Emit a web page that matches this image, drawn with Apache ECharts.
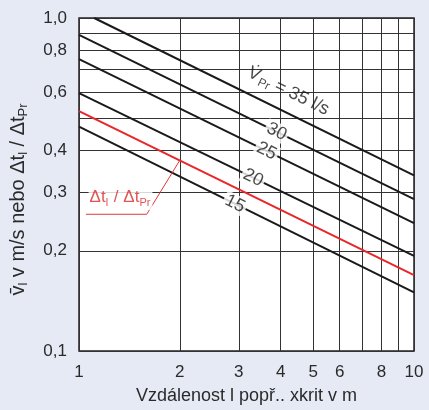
<!DOCTYPE html>
<html>
<head>
<meta charset="utf-8">
<script src="https://cdn.jsdelivr.net/npm/echarts@6/dist/echarts.min.js"></script>
<style>
html,body{margin:0;padding:0;background:#e6eaf4;}
#chart{width:429px;height:410px;}
</style>
</head>
<body>
<div id="chart"></div>
<script>
// ---- data ----
const flowNames = ['35', '30', '25', '20', '15'];
const line35 = [[1.11, 1.0], [10, 0.337]];
const line30 = [[1, 0.89], [10, 0.286]];
const line25 = [[1, 0.753], [10, 0.242]];
const line20 = [[1, 0.595], [10, 0.193]];
const line15 = [[1, 0.472], [10, 0.150]];
const ratioLine = [[1, 0.525], [10, 0.169]];
const flowLabelX = [3.97, 3.89, 3.63, 3.31, 2.92];
const ratioLeader = [[1.049, 0.2574], [1.593, 0.2574], [2, 0.374]];
const ratioLabelPos = [1.33, 0.289];
const xGridValues = [1, 2, 3, 4, 5, 6, 7, 8, 9, 10];
const xTickLabels = [1, 2, 3, 4, 5, 6, 8, 10];
const yGridValues = [0.1, 0.2, 0.3, 0.4, 0.5, 0.6, 0.7, 0.8, 0.9, 1.0];
const yTickLabels = [0.1, 0.2, 0.3, 0.4, 0.6, 0.8, 1.0];

const flowLines = [line35, line30, line25, line20, line15];

function yOn(line, x) {
  const [x0, y0] = line[0], [x1, y1] = line[1];
  const t = (Math.log10(x) - Math.log10(x0)) / (Math.log10(x1) - Math.log10(x0));
  return Math.pow(10, Math.log10(y0) + t * (Math.log10(y1) - Math.log10(y0)));
}

const FONT = 'Liberation Sans, Arial, sans-serif';
const ROT = -26.3;
const INK = '#1a1a1a';

const series = [];
flowLines.forEach((ln) => {
  series.push({
    type: 'line', data: ln, symbol: 'none', z: 3,
    lineStyle: { color: INK, width: 2 }, silent: true
  });
});
series.push({
  type: 'line', data: ratioLine, symbol: 'none', z: 3,
  lineStyle: { color: '#e8262b', width: 2 }, silent: true
});
series.push({
  type: 'line', data: ratioLeader, symbol: 'none', z: 3,
  lineStyle: { color: '#e0393a', width: 1 }, silent: true
});

const labelData = flowNames.map((name, i) => {
  const x = flowLabelX[i];
  const y = yOn(flowLines[i], x);
  if (i === 0) {
    return {
      value: [x, y],
      label: {
        formatter: '{v|V\u0307}{s|Pr}{t| = 35 l/s}',
        offset: [0, -20],
        rich: {
          v: { fontSize: 18, fontFamily: FONT, color: INK, lineHeight: 22 },
          s: { fontSize: 12, fontFamily: FONT, color: INK, verticalAlign: 'bottom', lineHeight: 22, padding: [7, 0, 0, 1] },
          t: { fontSize: 18, fontFamily: FONT, color: INK, lineHeight: 22 }
        }
      }
    };
  }
  return {
    value: [x, y],
    label: {
      formatter: name,
      backgroundColor: '#ffffff',
      padding: [0, 2]
    }
  };
});

series.push({
  type: 'scatter', data: labelData, symbolSize: 0, z: 6, silent: true,
  label: {
    show: true, position: 'inside', rotate: ROT,
    fontSize: 18, fontFamily: FONT, color: INK
  }
});

series.push({
  type: 'scatter', data: [{ value: ratioLabelPos }], symbolSize: 0, z: 6, silent: true,
  label: {
    show: true, position: 'inside',
    formatter: '{a|\u0394t}{s|l}{a| / \u0394t}{s|Pr}',
    backgroundColor: '#ffffff',
    padding: [2, 1],
    rich: {
      a: { fontSize: 17, fontFamily: FONT, color: '#d92b2b', lineHeight: 21 },
      s: { fontSize: 11, fontFamily: FONT, color: '#d92b2b', lineHeight: 21, verticalAlign: 'bottom', padding: [7, 1, 0, 0] }
    }
  }
});

const chart = echarts.init(document.getElementById('chart'), null, { renderer: 'canvas' });
chart.setOption({
  backgroundColor: '#e6eaf4',
  animation: false,
  grid: {
    left: 79, top: 18, right: 15, bottom: 56,
    show: true, backgroundColor: '#ffffff', borderColor: '#222', borderWidth: 1.5
  },
  xAxis: {
    type: 'log', logBase: 10, min: 1, max: 10,
    name: 'Vzdálenost l popř.. xkrit v m',
    nameLocation: 'middle', nameGap: 36,
    nameTextStyle: { fontSize: 18, fontFamily: FONT, color: '#2a2a2a' },
    axisLine: { show: false },
    axisTick: { show: false, customValues: xGridValues },
    axisLabel: {
      customValues: xTickLabels, margin: 13,
      fontSize: 17, fontFamily: FONT, color: '#2a2a2a',
      formatter: v => String(Math.round(v))
    },
    splitLine: { show: true, lineStyle: { color: '#333', width: 1 } }
  },
  yAxis: {
    type: 'log', logBase: 10, min: 0.1, max: 1,
    name: '{o|v\u0304}{s|l}{n| v m/s nebo \u0394t}{s|l}{n| / \u0394t}{s|Pr}',
    nameLocation: 'middle', nameRotate: 90, nameGap: 49,
    nameTextStyle: {
      fontSize: 20, fontFamily: FONT, color: '#2a2a2a',
      padding: [0, 30, 0, 0],
      rich: {
        o: { fontSize: 20, fontFamily: FONT, color: '#2a2a2a', lineHeight: 24 },
        n: { fontSize: 20, fontFamily: FONT, color: '#2a2a2a', lineHeight: 24 },
        s: { fontSize: 13, fontFamily: FONT, color: '#2a2a2a', lineHeight: 24, verticalAlign: 'bottom', padding: [8, 0, 0, 0] }
      }
    },
    axisLine: { show: false },
    axisTick: { show: false, customValues: yGridValues },
    axisLabel: {
      customValues: yTickLabels, margin: 12,
      fontSize: 17, fontFamily: FONT, color: '#2a2a2a',
      formatter: v => v.toFixed(1).replace('.', ',')
    },
    splitLine: { show: true, lineStyle: { color: '#333', width: 1 } }
  },
  series: series
});
</script>
</body>
</html>
